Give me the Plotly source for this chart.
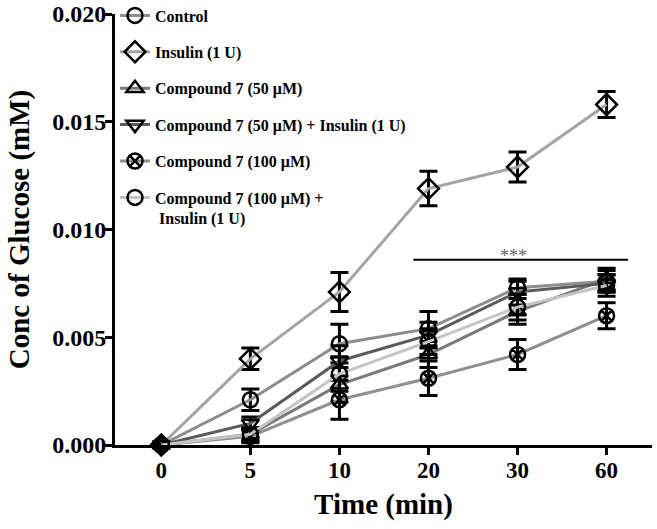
import plotly.graph_objects as go

# ---- data ----
time_labels = ["0", "5", "10", "20", "30", "60"]

series_names = [
    "Control",
    "Insulin (1 U)",
    "Compound 7 (50 μM)",
    "Compound 7 (50 μM) + Insulin (1 U)",
    "Compound 7 (100 μM)",
    "Compound 7 (100 μM) +<br> Insulin (1 U)",
]

control = [0.0, 0.0021, 0.0047, 0.0054, 0.0073, 0.0076]
insulin = [0.0, 0.0040, 0.0071, 0.0119, 0.0129, 0.0158]
c7_50 = [0.0, 0.0005, 0.0028, 0.0042, 0.0062, 0.0077]
c7_50_ins = [0.0, 0.0010, 0.0039, 0.0051, 0.0071, 0.0075]
c7_100 = [0.0, 0.0004, 0.0021, 0.0031, 0.0042, 0.0060]
c7_100_ins = [0.0, 0.0005, 0.0033, 0.0048, 0.0064, 0.0074]

control_err = [0.0, 0.0005, 0.0009, 0.0008, 0.0003, 0.0005]
insulin_err = [0.0, 0.0005, 0.0009, 0.0008, 0.0007, 0.0006]
c7_50_err = [0.0, 0.0003, 0.0008, 0.0006, 0.0006, 0.0005]
c7_50_ins_err = [0.0, 0.0003, 0.0007, 0.0006, 0.0006, 0.0004]
c7_100_err = [0.0, 0.0003, 0.0009, 0.0008, 0.0007, 0.0006]
c7_100_ins_err = [0.0, 0.0003, 0.0008, 0.0006, 0.0006, 0.0005]

sig_label = "***"
sig_level = 0.0086
sig_start = 2.83
sig_end = 5.24

values = [control, insulin, c7_50, c7_50_ins, c7_100, c7_100_ins]
errors = [control_err, insulin_err, c7_50_err, c7_50_ins_err, c7_100_err, c7_100_ins_err]
symbols = ["circle-open", "diamond-open", "triangle-up-open", "triangle-down-open",
           "circle-x-open", "circle-open"]
line_colors = ["#8c8c8c", "#a4a4a4", "#7a7a7a", "#5a5a5a", "#8f8f8f", "#c4c4c4"]
sizes = [15, 16, 15, 15, 15, 15]

FONT = "Liberation Serif"

fig = go.Figure()
for i, (name, v, e) in enumerate(zip(series_names, values, errors)):
    fig.add_trace(go.Scatter(
        x=time_labels, y=v, name=name, mode="lines+markers",
        legendgroup=f"g{i}",
        line=dict(color=line_colors[i], width=3),
        marker=dict(symbol=symbols[i], size=sizes[i], color="black",
                    line=dict(color="black", width=2.5)),
        error_y=dict(type="data", array=e, visible=True, color="black",
                     thickness=3, width=9),
        cliponaxis=False,
    ))

fig.add_shape(type="line", xref="x", yref="y", x0=sig_start, x1=sig_end,
              y0=sig_level, y1=sig_level, line=dict(color="black", width=2))
fig.add_annotation(x=3.96, y=sig_level, xref="x", yref="y", text=sig_label,
                   showarrow=False, yanchor="bottom", yshift=-8,
                   font=dict(family=FONT, size=18, color="#666666"))

fig.update_layout(
    width=657, height=529,
    margin=dict(l=115, r=5, t=14, b=84, autoexpand=False),
    plot_bgcolor="white", paper_bgcolor="white",
    font=dict(family=FONT, color="black"),
    showlegend=True,
    legend=dict(x=0.0, y=1.036, xanchor="left", yanchor="top",
                bgcolor="rgba(0,0,0,0)", tracegroupgap=12.6, valign="top",
                font=dict(family=FONT, size=16, weight="bold", color="black")),
    xaxis=dict(
        type="category", range=[-0.52, 5.51],
        showline=True, linecolor="black", linewidth=3,
        ticks="outside", ticklen=7, tickwidth=3, tickcolor="black",
        ticklabelstandoff=-5,
        tickfont=dict(family=FONT, size=23, weight="bold"),
        showgrid=False, zeroline=False,
        title=dict(text="Time (min)", standoff=13,
                   font=dict(family=FONT, size=29, weight="bold")),
    ),
    yaxis=dict(
        range=[0, 0.020], dtick=0.005, tickformat=".3f",
        showline=True, linecolor="black", linewidth=3,
        ticks="outside", ticklen=7, tickwidth=3, tickcolor="black",
        ticklabelstandoff=-6, ticklabeloverflow="allow",
        tickfont=dict(family=FONT, size=24, weight="bold"),
        showgrid=False, zeroline=False,
        title=dict(text="Conc of Glucose (mM)", standoff=15,
                   font=dict(family=FONT, size=29, weight="bold")),
    ),
)

# remove the browser's default 8px page margin so the figure sits at the top-left
fig.write_html("out.html", config={"displayModeBar": False},
               post_script="document.body.style.margin='0px';")
